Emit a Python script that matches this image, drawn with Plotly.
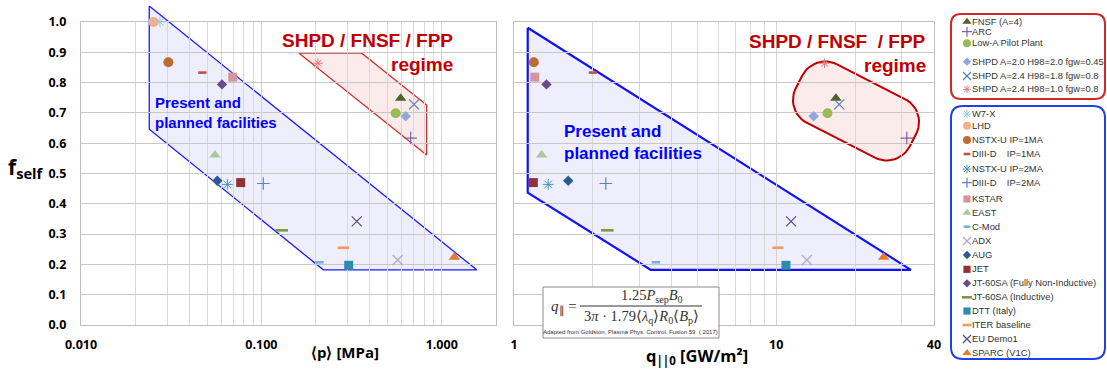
import math
import plotly.graph_objects as go

# ---------------- data ----------------
names = [
    "FNSF (A=4)", "ARC", "Low-A Pilot Plant",
    "SHPD A=2.0 H98=2.0 fgw=0.45", "SHPD A=2.4 H98=1.8 fgw=0.8", "SHPD A=2.4 H98=1.0 fgw=0.8",
    "W7-X", "LHD", "NSTX-U IP=1MA", "DIII-D    IP=1MA", "NSTX-U IP=2MA", "DIII-D    IP=2MA",
    "KSTAR", "EAST", "C-Mod", "ADX", "AUG", "JET",
    "JT-60SA (Fully Non-Inductive)", "JT-60SA (Inductive)", "DTT (Italy)",
    "ITER baseline", "EU Demo1", "SPARC (V1C)",
]
p_avg_MPa = [0.592, 0.673, 0.556, 0.631, 0.702, 0.206,
             0.0274, 0.0252, 0.0305, 0.0471, 0.0648, 0.1025,
             0.0694, 0.0553, 0.210, 0.570, 0.057, 0.0768,
             0.0605, 0.1297, 0.305, 0.285, 0.338, 1.175]
q_par0_GWm2 = [16.9, 31.5, 15.7, 13.9, 17.4, 15.3,
               None, None, 1.19, 2.00, 1.35, 2.24,
               1.20, 1.275, 3.48, 13.1, 1.61, 1.185,
               1.33, 2.27, 10.9, 10.15, 11.4, 25.7]
f_self = [0.748, 0.617, 0.699, 0.689, 0.728, 0.864,
          1.000, 1.000, 0.867, 0.833, 0.464, 0.467,
          0.818, 0.561, 0.207, 0.2145, 0.476, 0.470,
          0.794, 0.3125, 0.197, 0.255, 0.342, 0.224]

p_tick_vals = [0.01, 0.1, 1.0]
p_tick_text = ["0.010", "0.100", "1.000"]
p_minor_vals = [0.02, 0.03, 0.04, 0.05, 0.06, 0.07, 0.08, 0.09,
                0.2, 0.3, 0.4, 0.5, 0.6, 0.7, 0.8, 0.9, 2.0]
q_tick_vals = [1, 10, 40]
q_tick_text = ["1", "10", "40"]
q_minor_vals = [2, 3, 4, 5, 6, 7, 8, 9, 20, 30]
f_tick_vals = [0.0, 0.1, 0.2, 0.3, 0.4, 0.5, 0.6, 0.7, 0.8, 0.9, 1.0]

# regions (data coordinates of each panel)
left_blue_region = [(0.0239, 1.053), (0.0239, 0.646), (0.2206, 0.182), (1.563, 0.182)]
left_red_region = [(0.1618, 0.897), (0.360, 0.897), (0.825, 0.726), (0.825, 0.561)]
right_blue_region = [(1.128, 0.981), (1.128, 0.437), (3.324, 0.182), (32.66, 0.182)]

# ---------------- styles ----------------
symbols = ["triangle-up", "cross-thin", "circle", "diamond", "x-thin", "asterisk",
           "asterisk", "circle", "circle", "line-ew", "asterisk", "cross-thin",
           "square", "triangle-up", "line-ew", "x-thin", "diamond", "square",
           "diamond", "line-ew", "square", "line-ew", "x-thin", "triangle-up"]
colors = ["#4F6228", "#8064A2", "#9BBB59", "#8EA9DB", "#4F81BD", "#DB7A7A",
          "#8ECAE6", "#F8AE8A", "#BC6C35", "#C0504D", "#4A96BE", "#5B83C4",
          "#D4969E", "#A9C99A", "#6DB6D6", "#B3A6CC", "#2C5A8F", "#933236",
          "#674C8A", "#7A9A45", "#2E8BB0", "#F59A5E", "#5E4A78", "#E57A2E"]
sizes = [10, 9, 10, 8, 10, 8,
         9, 10, 10, 6, 9, 9,
         9, 10, 6, 10, 8, 9,
         8, 9, 9, 8, 10, 10]
line_w = {"cross-thin": 1.2, "x-thin": 1.2, "asterisk": 1.0, "line-ew": 2.6}

# ---------------- geometry (pixels) ----------------
W, H = 1107, 369
PT, PB = 22, 325
LX0, LX1 = 81, 496
RX0, RX1 = 514, 934
P_RANGE = (0.01, 2.0)
Q_RANGE = (1.0, 40.0)
ydom = [1 - PB / H, 1 - PT / H]


def left_px(x, y):
    lo, hi = math.log10(P_RANGE[0]), math.log10(P_RANGE[1])
    return (LX0 + (math.log10(x) - lo) / (hi - lo) * (LX1 - LX0), PB - y * (PB - PT))


def right_px(x, y):
    lo, hi = math.log10(Q_RANGE[0]), math.log10(Q_RANGE[1])
    return (RX0 + (math.log10(x) - lo) / (hi - lo) * (RX1 - RX0), PB - y * (PB - PT))


def rounded_rect(cx, cy, L, Wd, r, ang_deg, n=12):
    a = math.radians(ang_deg)
    hl, hw = L / 2 - r, Wd / 2 - r
    xs, ys = [], []
    for ux, uy, a0 in [(hl, hw, 0), (-hl, hw, 90), (-hl, -hw, 180), (hl, -hw, 270)]:
        for k in range(n + 1):
            t = math.radians(a0 + 90 * k / n)
            lx, ly = ux + r * math.cos(t), uy + r * math.sin(t)
            xs.append(cx + lx * math.cos(a) - ly * math.sin(a))
            ys.append(cy + lx * math.sin(a) + ly * math.cos(a))
    xs.append(xs[0]); ys.append(ys[0])
    return xs, ys


def marker(i, scale=1.0):
    s = symbols[i]
    return dict(symbol=s, size=sizes[i] * scale, color=colors[i],
                line=dict(color=colors[i], width=line_w.get(s, 0)))


fig = go.Figure()


# ---- decorative regions (full-figure pixel axis, drawn underneath) ----
def add_region(pts, conv, fill, lcol, lw):
    px = [conv(x, y) for x, y in pts]
    px.append(px[0])
    fig.add_trace(go.Scatter(x=[p[0] for p in px], y=[p[1] for p in px], mode="lines",
                             fill="toself", fillcolor=fill, line=dict(color=lcol, width=lw),
                             xaxis="x", yaxis="y", hoverinfo="skip", showlegend=False))


add_region(left_blue_region, left_px, "rgba(70,70,235,0.09)", "#1A1AFF", 1.3)
add_region(left_red_region, left_px, "rgba(225,60,60,0.10)", "#D03030", 1.3)
add_region(right_blue_region, right_px, "rgba(70,70,235,0.09)", "#1010FF", 2.2)
rx, ry = rounded_rect(856, 111, 128, 66, 26, 27)
fig.add_trace(go.Scatter(x=rx, y=ry, mode="lines", fill="toself",
                         fillcolor="rgba(225,60,60,0.10)", line=dict(color="#C00000", width=2),
                         xaxis="x", yaxis="y", hoverinfo="skip", showlegend=False))

# ---- custom legend markers ----
leg_y = [21.7, 31.7, 43.3, 61.7, 76, 89.3,
         114, 125.7, 140, 154, 169, 182.7, 199, 212.7, 226.7,
         241, 255, 269.3, 283.3, 297.3, 311, 325, 339, 353]
for i in range(len(names)):
    fig.add_trace(go.Scatter(x=[967], y=[leg_y[i]], mode="markers", marker=marker(i, 0.8),
                             xaxis="x", yaxis="y", hoverinfo="skip", showlegend=False))

# ---- data markers ----
for i, nm in enumerate(names):
    fig.add_trace(go.Scatter(x=[p_avg_MPa[i]], y=[f_self[i]], mode="markers", name=nm,
                             marker=marker(i), xaxis="x2", yaxis="y2", showlegend=False,
                             cliponaxis=False))
    if q_par0_GWm2[i] is not None:
        fig.add_trace(go.Scatter(x=[q_par0_GWm2[i]], y=[f_self[i]], mode="markers", name=nm,
                                 marker=marker(i), xaxis="x3", yaxis="y3", showlegend=False,
                                 cliponaxis=False))

tickfont = dict(family="Open Sans", size=12.5, color="#000000", weight="bold")
grid_common = dict(showline=True, linecolor="#BFBFBF", linewidth=1.4, mirror=True,
                   zeroline=False, ticks="", fixedrange=True, automargin=False)

fig.update_layout(
    width=W, height=H, margin=dict(l=0, r=0, t=0, b=0, pad=0, autoexpand=False),
    paper_bgcolor="white", plot_bgcolor="rgba(0,0,0,0)", showlegend=False,
    xaxis=dict(domain=[0, 1], range=[0, W], visible=False, fixedrange=True, automargin=False),
    yaxis=dict(domain=[0, 1], range=[H, 0], visible=False, fixedrange=True, automargin=False),
    xaxis2=dict(domain=[LX0 / W, LX1 / W], anchor="y2", type="log",
                range=[math.log10(P_RANGE[0]), math.log10(P_RANGE[1])],
                tickmode="array", tickvals=p_tick_vals, ticktext=p_tick_text,
                gridcolor="#D3D3D3", gridwidth=1, tickfont=tickfont, ticklabelstandoff=8,
                minor=dict(tickmode="array", tickvals=p_minor_vals, showgrid=True,
                           gridcolor="#D9D9D9", gridwidth=1, ticks=""),
                **grid_common),
    yaxis2=dict(domain=ydom, anchor="x2", range=[0, 1], tickmode="array",
                tickvals=f_tick_vals, tickformat=".1f", gridcolor="#C8C8C8", gridwidth=1.2,
                tickfont=tickfont, ticklabelstandoff=11, **grid_common),
    xaxis3=dict(domain=[RX0 / W, RX1 / W], anchor="y3", type="log",
                range=[math.log10(Q_RANGE[0]), math.log10(Q_RANGE[1])],
                tickmode="array", tickvals=q_tick_vals, ticktext=q_tick_text,
                gridcolor="#D3D3D3", gridwidth=1, tickfont=tickfont, ticklabelstandoff=8,
                minor=dict(tickmode="array", tickvals=q_minor_vals, showgrid=True,
                           gridcolor="#D9D9D9", gridwidth=1, ticks=""),
                **grid_common),
    yaxis3=dict(domain=ydom, anchor="x3", range=[0, 1], tickmode="array",
                tickvals=f_tick_vals, showticklabels=False, gridcolor="#C8C8C8",
                gridwidth=1.2, **grid_common),
)

shapes = []
ann = []


def txt(x, y, text, size, color="#000000", family="Liberation Sans", bold=False,
        xanchor="center", align="center"):
    ann.append(dict(x=x, y=y, xref="x", yref="y", text=text, showarrow=False,
                    xanchor=xanchor, yanchor="middle", align=align,
                    font=dict(family=family, size=size, color=color,
                              weight="bold" if bold else "normal")))


# region labels
RED = "#C00000"
BLUE = "#0000FF"
txt(455, 40, "SHPD / FNSF / FPP", 19, RED, bold=True, xanchor="right")
txt(455, 64, "regime", 19, RED, bold=True, xanchor="right")
txt(153, 112, "Present and<br>planned facilities", 15, BLUE, bold=True, xanchor="left", align="left")
txt(928, 41, "SHPD / FNSF \u00a0/ FPP", 19, RED, bold=True, xanchor="right")
txt(928, 65, "regime", 19, RED, bold=True, xanchor="right")
txt(562, 142, "Present and<br>planned facilities", 17, BLUE, bold=True, xanchor="left", align="left")

# axis titles
txt(26, 168, "f<sub>self</sub>", 21, "#000000", family="Open Sans", bold=True)
txt(345, 352, "\u27e8p\u27e9 [MPa]", 15, "#000000", family="Open Sans", bold=True)
txt(697, 356, "q<sub>||0</sub> [GW/m\u00b2]", 16.5, "#000000", family="Open Sans", bold=True)

# formula box
shapes.append(dict(type="rect", xref="x", yref="y", x0=543, y0=287, x1=719, y1=338,
                   fillcolor="white", line=dict(color="#8C8C8C", width=1), layer="above"))
shapes.append(dict(type="line", xref="x", yref="y", x0=580, y0=306, x1=702, y1=306,
                   line=dict(color="#333333", width=1), layer="above"))
SERIF = "Liberation Serif"
txt(549, 307, "<i>q</i><sub>\u2225</sub> =", 15, "#333333", family=SERIF, xanchor="left")
txt(652, 296, "1.25<i>P</i><sub>sep</sub><i>B</i><sub>0</sub>", 14.5, "#333333", family=SERIF)
txt(641, 317, "3<i>\u03c0</i> \u00b7 1.79\u27e8<i>\u03bb</i><sub>q</sub>\u27e9<i>R</i><sub>0</sub>\u27e8<i>B</i><sub>p</sub>\u27e9",
    14.5, "#333333", family=SERIF)
txt(630, 332, "Adapted from Goldston, Plasma Phys. Control. Fusion 59 \u00a0( 2017)", 6, "#333333")


# legend boxes
def rrect_path(x0, y0, x1, y1, r):
    return (f"M {x0 + r},{y0} L {x1 - r},{y0} Q {x1},{y0} {x1},{y0 + r} "
            f"L {x1},{y1 - r} Q {x1},{y1} {x1 - r},{y1} L {x0 + r},{y1} "
            f"Q {x0},{y1} {x0},{y1 - r} L {x0},{y0 + r} Q {x0},{y0} {x0 + r},{y0} Z")


shapes.append(dict(type="path", xref="x", yref="y", path=rrect_path(951, 14, 1105, 99, 10),
                   line=dict(color="#D02828", width=2), layer="above"))
shapes.append(dict(type="path", xref="x", yref="y", path=rrect_path(951, 106, 1105, 359, 12),
                   line=dict(color="#1F3FE8", width=2), layer="above"))

LEG_FONT = "Liberation Sans"
for i, nm in enumerate(names):
    txt(970, leg_y[i], nm.replace("    ", "\u00a0\u00a0\u00a0\u00a0"), 9.35, "#333333",
        family=LEG_FONT, xanchor="left", align="left")

fig.update_layout(shapes=shapes, annotations=ann)
fig.write_html("out.html", config={"displayModeBar": False},
               post_script="document.body.style.margin='0px';document.body.style.overflow='hidden';")
